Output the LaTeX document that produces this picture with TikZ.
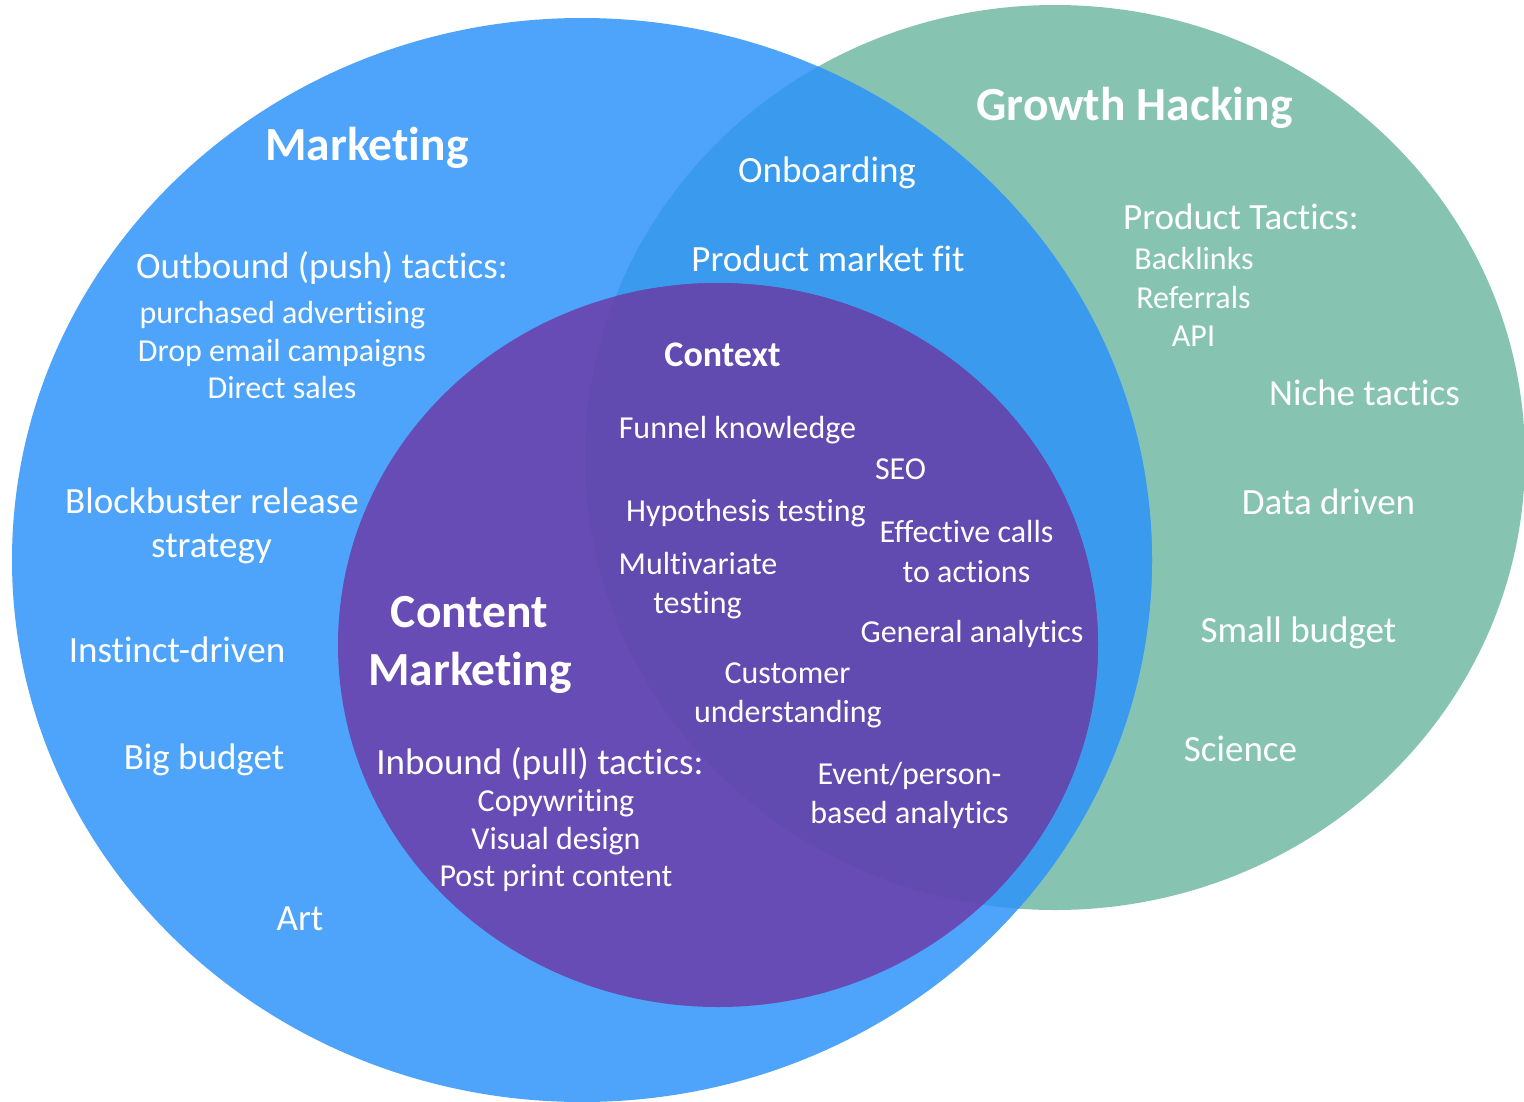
\documentclass[tikz,border=0pt]{standalone}
\usepackage{fontspec}
\setmainfont{Carlito}[Ligatures=NoCommon, RawFeature={-clig;-calt;-dlig}]
\definecolor{mblue}{HTML}{4DA4FA}
\definecolor{oblue}{HTML}{3A9BEE}
\definecolor{ggreen}{HTML}{86C4B1}
\definecolor{purpA}{HTML}{684CB5}
\definecolor{purpB}{HTML}{614AB0}
\tikzset{
  lbl/.style={text=white, inner sep=0pt, anchor=base},
  big/.style={lbl, font=\fontsize{37}{44}\selectfont},
  sml/.style={lbl, font=\fontsize{32}{38}\selectfont},
  ttl/.style={lbl, font=\bfseries\fontsize{47.5}{56}\selectfont},
  ctx/.style={lbl, font=\bfseries\fontsize{36}{42}\selectfont},
}
\begin{document}
\begin{tikzpicture}[x=1pt,y=-1pt]
\clip (0,0) rectangle (1524,1101);
\fill[white] (0,0) rectangle (1524,1101);
% circles
\fill[ggreen] (1055,457.5) ellipse [x radius=470pt, y radius=452.5pt];
\fill[mblue] (582,560) ellipse [x radius=570pt, y radius=542pt];
\begin{scope}
  \clip (1055,457.5) ellipse [x radius=470pt, y radius=452.5pt];
  \fill[oblue] (582,560) ellipse [x radius=570pt, y radius=542pt];
\end{scope}
\fill[purpA] (718,645) ellipse [x radius=380pt, y radius=362pt];
\begin{scope}
  \clip (1055,457.5) ellipse [x radius=470pt, y radius=452.5pt];
  \fill[purpB] (718,645) ellipse [x radius=380pt, y radius=362pt];
\end{scope}
% Marketing
\node[ttl] (mkt) at (367,160) {Marketing};
\node[big] (outb) at (322,278) {Outbound (push) tactics:};
\node[sml] (purch) at (282.5,323) {purchased advertising};
\node[sml] (drop) at (282,361) {Drop email campaigns};
\node[sml] (direct) at (282,398) {Direct sales};
\node[big] (block1) at (212,513) {Blockbuster release};
\node[big] (block2) at (211.5,557) {strategy};
\node[big] (inst) at (177,662) {Instinct-driven};
\node[big] (bigb) at (204,769) {Big budget};
\node[big] (art) at (300,930) {Art};
% Growth hacking
\node[ttl] (gh) at (1134.5,120) {Growth Hacking};
\node[big] (prodt) at (1241,229) {Product Tactics:};
\node[sml] (backl) at (1194,269) {Backlinks};
\node[sml] (refer) at (1193.5,308) {Referrals};
\node[sml] (api) at (1193.5,346) {API};
\node[big] (niche) at (1364.5,405) {Niche tactics};
\node[big] (data) at (1328.5,514) {Data driven};
\node[big] (small) at (1298.5,642) {Small budget};
\node[big] (sci) at (1240.5,761) {Science};
% overlap
\node[big] (onb) at (827,182.5) {Onboarding};
\node[big] (pmf) at (828,271) {Product market fit};
% Context
\node[ctx] (context) at (722.5,366) {Context};
\node[sml] (funnel) at (737.5,438.5) {Funnel knowledge};
\node[sml] (seo) at (900.5,479.5) {SEO};
\node[sml] (hyp) at (746,521.5) {Hypothesis testing};
\node[sml] (eff1) at (966.5,542.5) {Effective calls};
\node[sml] (eff2) at (966.5,582.5) {to actions};
\node[sml] (multi1) at (698,574.5) {Multivariate};
\node[sml] (multi2) at (697.5,613.5) {testing};
\node[sml] (gen) at (972,642.5) {General analytics};
\node[sml] (cust1) at (787.5,683.5) {Customer};
\node[sml] (cust2) at (788,722.5) {understanding};
\node[sml] (ev1) at (909.5,784.5) {Event/person-};
\node[sml] (ev2) at (909.5,823.5) {based analytics};
% Content marketing
\node[ttl] (cm1) at (469.5,627) {Content};
\node[ttl] (cm2) at (470,685) {Marketing};
\node[big] (inb) at (540,774) {Inbound (pull) tactics:};
\node[sml] (copy) at (556,811) {Copywriting};
\node[sml] (vis) at (556,849) {Visual design};
\node[sml] (post) at (556,886) {Post print content};
\end{tikzpicture}
\end{document}
